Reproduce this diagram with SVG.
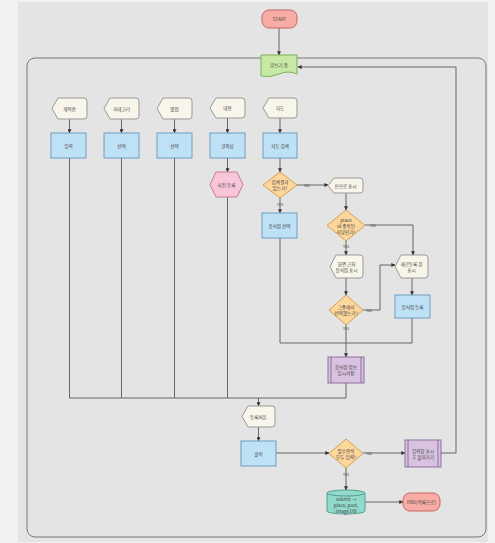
<svg xmlns="http://www.w3.org/2000/svg" width="495" height="543" viewBox="0 0 495 543">
<defs>
<marker id="arr" viewBox="0 0 6 6" refX="5.5" refY="3" markerWidth="4" markerHeight="4" orient="auto"><path d="M0,0 L6,3 L0,6 Z" fill="#333"/></marker>
<style>
text{font-family:"Noto Sans CJK KR","Noto Sans",sans-serif;font-size:4.6px;fill:#444;text-anchor:middle;dominant-baseline:central}
.lbl{font-size:4px;fill:#555}
.ln{fill:none;stroke:#666;stroke-width:1}
.ar{marker-end:url(#arr)}
.term{fill:#f7aca6;stroke:#c9655f;stroke-width:1}
.doc{fill:#c8e8a6;stroke:#7fae5a;stroke-width:1}
.disp{fill:#f8f6ea;stroke:#999;stroke-width:1}
.proc{fill:#bfe1f6;stroke:#6d9cbf;stroke-width:1}
.dec{fill:#fdd79c;stroke:#d3a152;stroke-width:1}
.hex{fill:#f9c6d9;stroke:#c77b98;stroke-width:1}
.pre{fill:#d8c2e0;stroke:#8e6f9f;stroke-width:1}
.db{fill:#92dacb;stroke:#4f9f90;stroke-width:1}
</style>
</defs>
<rect x="0" y="0" width="495" height="543" fill="#f1f1f1"/>
<rect x="18" y="2" width="470" height="540" fill="#e4e4e4"/>
<rect x="27" y="58" width="459" height="479" rx="8" fill="none" stroke="#777" stroke-width="1"/>

<g id="connectors">
<path class="ln ar" d="M279,28 V55"/>
<path class="ln ar" d="M441,453 H456 V67 H298"/>
<path class="ln ar" d="M69.5,119 V133"/>
<path class="ln ar" d="M121.5,119 V133"/>
<path class="ln ar" d="M174.5,119 V133"/>
<path class="ln ar" d="M227.5,118 V133"/>
<path class="ln ar" d="M280,118 V133"/>
<path class="ln ar" d="M227.5,158 V172"/>
<path class="ln ar" d="M280,158 V172"/>
<path class="ln" d="M69.5,158 V398 H346"/>
<path class="ln" d="M121.5,158 V398"/>
<path class="ln" d="M174.5,158 V398"/>
<path class="ln" d="M227.5,197 V398"/>
<path class="ln" d="M346,383 V398"/>
<path class="ln ar" d="M258.5,398 V406"/>
<path class="ln ar" d="M297,185 H328"/>
<text class="lbl" x="307" y="184.5">No</text>
<path class="ln ar" d="M280,198 V213"/>
<text class="lbl" x="280" y="204">Yes</text>
<path class="ln ar" d="M346,193 V210"/>
<path class="ln ar" d="M365,225 H413 V255"/>
<text class="lbl" x="373" y="225">No</text>
<path class="ln ar" d="M346,241 V255"/>
<text class="lbl" x="346" y="246">Yes</text>
<path class="ln ar" d="M346,278 V295"/>
<path class="ln ar" d="M363,310 H380 V265 H395"/>
<text class="lbl" x="369" y="310">No</text>
<path class="ln ar" d="M346,325 V357"/>
<text class="lbl" x="346" y="328">Yes</text>
<path class="ln ar" d="M412,278 V295"/>
<path class="ln" d="M412,318 V343 H346"/>
<path class="ln" d="M280,238 V343 H346"/>
<path class="ln ar" d="M258.5,427 V441"/>
<path class="ln ar" d="M276,453 H329"/>
<path class="ln ar" d="M363,453 H405"/>
<text class="lbl" x="369" y="453">No</text>
<path class="ln ar" d="M346,468 V490"/>
<text class="lbl" x="346" y="474">Yes</text>
<path class="ln ar" d="M365,502 H403"/>
</g>

<g id="start"><rect class="term" x="262" y="10" width="35" height="18" rx="7"/><text x="279.5" y="19">START</text></g>
<g id="form"><path class="doc" d="M261,55 H297 V74 Q288,70 279,74 T261,76 Z"/><text x="279" y="65">글쓰기 폼</text></g>

<g id="title"><path class="disp" d="M58,98 H84 Q87,98 87,101 V116 Q87,119 84,119 H58 L52,108.5 Z"/><text x="69.5" y="108.5">제목란</text></g>
<g id="category"><path class="disp" d="M110,98 H136 Q139,98 139,101 V116 Q139,119 136,119 H110 L104,108.5 Z"/><text x="121.5" y="108.5">카테고리</text></g>
<g id="rating"><path class="disp" d="M163,98 H189 Q192,98 192,101 V116 Q192,119 189,119 H163 L157,108.5 Z"/><text x="174.5" y="108.5">별점</text></g>
<g id="content"><path class="disp" d="M216,98 H242 Q245,98 245,101 V115 Q245,118 242,118 H216 L210,108 Z"/><text x="227.5" y="108">내용</text></g>
<g id="map"><path class="disp" d="M269,98 H294 Q297,98 297,101 V115 Q297,118 294,118 H269 L263,108 Z"/><text x="280" y="108">지도</text></g>

<g id="input"><rect class="proc" x="51" y="133" width="35" height="25"/><text x="68.5" y="145.5">입력</text></g>
<g id="select1"><rect class="proc" x="104" y="133" width="35" height="25"/><text x="121.5" y="145.5">선택</text></g>
<g id="select2"><rect class="proc" x="157" y="133" width="35" height="25"/><text x="174.5" y="145.5">선택</text></g>
<g id="write"><rect class="proc" x="210" y="133" width="35" height="25"/><text x="227.5" y="145.5">글작성</text></g>
<g id="mapsearch"><rect class="proc" x="263" y="133" width="34" height="25"/><text x="280" y="145.5">지도 검색</text></g>

<g id="photo"><polygon class="hex" points="216,172 237,172 243,184.5 237,197 216,197 210,184.5"/><text x="226.5" y="184.5">사진 등록</text></g>
<g id="hasresult"><polygon class="dec" points="280,172 297,185 280,198 263,185"/><text x="280" y="182">검색결과</text><text x="280" y="188">있는가?</text></g>
<g id="pin"><path class="disp" d="M334,178 H360 Q363,178 363,181 V190 Q363,193 360,193 H334 L328,185.5 Z"/><text x="345.5" y="185.5">핀으로 표시</text></g>
<g id="choose"><rect class="proc" x="262" y="213" width="35" height="25"/><text x="279.5" y="225.5">음식점 선택</text></g>
<g id="dup"><polygon class="dec" points="346,210 365,225.5 346,241 327,225.5"/><text x="346" y="219.5">place</text><text x="346" y="225.5">id 중복된</text><text x="346" y="231.5">식당인가?</text></g>
<g id="nearby"><path class="disp" d="M336,255 H360 Q363,255 363,258 V275 Q363,278 360,278 H336 L330,266.5 Z"/><text x="346.5" y="263.5">화면 근처</text><text x="346.5" y="269.5">음식점 표시</text></g>
<g id="picked"><polygon class="dec" points="346,295 363,310 346,325 329,310"/><text x="346" y="307">그중에서</text><text x="346" y="313">선택했는가?</text></g>
<g id="newwin"><path class="disp" d="M401,255 H425 Q428,255 428,258 V275 Q428,278 425,278 H401 L395,266.5 Z"/><text x="411.5" y="263.5">새로등록 창</text><text x="411.5" y="269.5">표시</text></g>
<g id="register"><rect class="proc" x="395" y="295" width="35" height="23"/><text x="412.5" y="306.5">음식점 등록</text></g>
<g id="temp"><rect class="pre" x="328" y="357" width="36" height="26"/><line x1="331" y1="357" x2="331" y2="383" stroke="#8e6f9f"/><line x1="361" y1="357" x2="361" y2="383" stroke="#8e6f9f"/><text x="346" y="367">음식점 정보</text><text x="346" y="373">임시저장</text></g>
<g id="button"><path class="disp" d="M248,406 H272 Q275,406 275,409 V424 Q275,427 272,427 H248 L242,416.5 Z"/><text x="258.5" y="416.5">등록버튼</text></g>
<g id="click"><rect class="proc" x="241" y="441" width="35" height="25"/><text x="258.5" y="453.5">클릭</text></g>
<g id="required"><polygon class="dec" points="346,439 363,453.5 346,468 329,453.5"/><text x="346" y="450.5">필수항목</text><text x="346" y="456.5">모두 입력?</text></g>
<g id="back"><rect class="pre" x="405" y="440" width="36" height="27"/><line x1="408" y1="440" x2="408" y2="467" stroke="#8e6f9f"/><line x1="438" y1="440" x2="438" y2="467" stroke="#8e6f9f"/><text x="423" y="450.5">입력창 표시</text><text x="423" y="456.5">후 돌아가기</text></g>
<g id="db"><path class="db" d="M327,493 V511 A19,3 0 0 0 365,511 V493 A19,3 0 0 0 327,493 Z"/><path d="M327,493 A19,3 0 0 0 365,493" fill="none" stroke="#4f9f90"/><text x="346" y="499">submit →</text><text x="346" y="505">place, post,</text><text x="346" y="511">image DB</text></g>
<g id="end"><rect class="term" x="403" y="493" width="37" height="18" rx="7"/><text x="421.5" y="502">END(목록으로)</text></g>
</svg>
